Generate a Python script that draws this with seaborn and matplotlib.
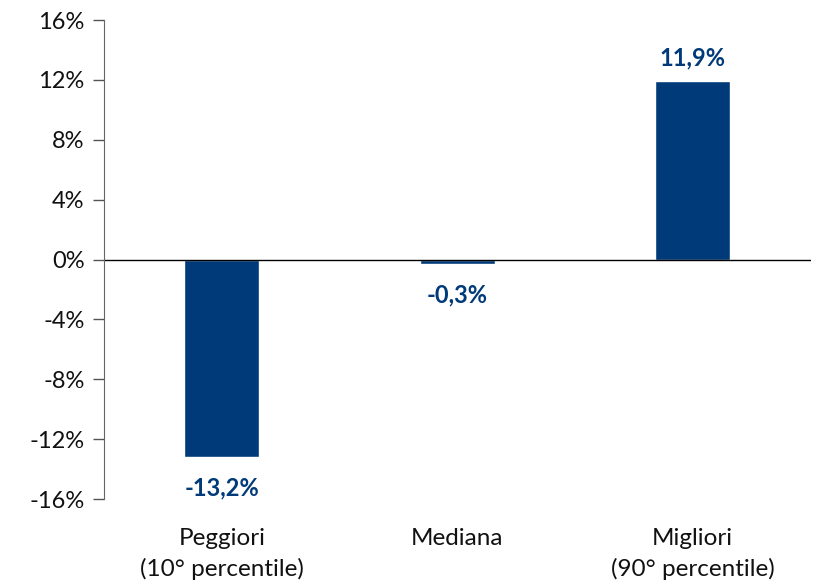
import matplotlib
matplotlib.use("Agg")
import matplotlib.pyplot as plt
import seaborn as sns
import pandas as pd

categorie = ["Peggiori\n(10° percentile)", "Mediana", "Migliori\n(90° percentile)"]
rendimenti = [-13.2, -0.3, 11.9]
etichette = ["-13,2%", "-0,3%", "11,9%"]
tick_y = [-16, -12, -8, -4, 0, 4, 8, 12, 16]

blu = "#003A78"

sns.set_style("white")
plt.rcParams["font.family"] = ["Lato", "DejaVu Sans"]

df = pd.DataFrame({"categoria": categorie, "valore": rendimenti})

fig = plt.figure(figsize=(8.13, 5.82), dpi=100)
ax = fig.add_axes([0.128, 0.1426, 0.869, 0.823])

sns.barplot(data=df, x="categoria", y="valore", color=blu, saturation=1,
            width=0.32, ax=ax)

ax.set_xlim(-0.5, 2.5)
ax.set_ylim(-16, 16)
ax.set_yticks(tick_y)
ax.set_yticklabels([f"{t}%" for t in tick_y], fontsize=17, color="#111111")
ax.set_xlabel("")
ax.set_ylabel("")
ax.tick_params(axis="x", length=0, labelsize=17.5, pad=21, colors="#111111")
for t in ax.get_xticklabels():
    t.set_linespacing(1.5)
ax.tick_params(axis="y", length=8, width=1, color="#555555", pad=6, left=True)

for s in ["top", "right", "bottom"]:
    ax.spines[s].set_visible(False)
ax.spines["left"].set_color("#666666")
ax.axhline(0, color="black", lw=1)

# etichette valori
for i, (v, lab) in enumerate(zip(rendimenti, etichette)):
    off = 17 if v > 0 else -22
    ax.annotate(lab, (i, v), xytext=(0, off), textcoords="offset points",
                ha="center", va="center", fontsize=17, fontweight="bold",
                color=blu)

fig.savefig("out.png", dpi=100)
